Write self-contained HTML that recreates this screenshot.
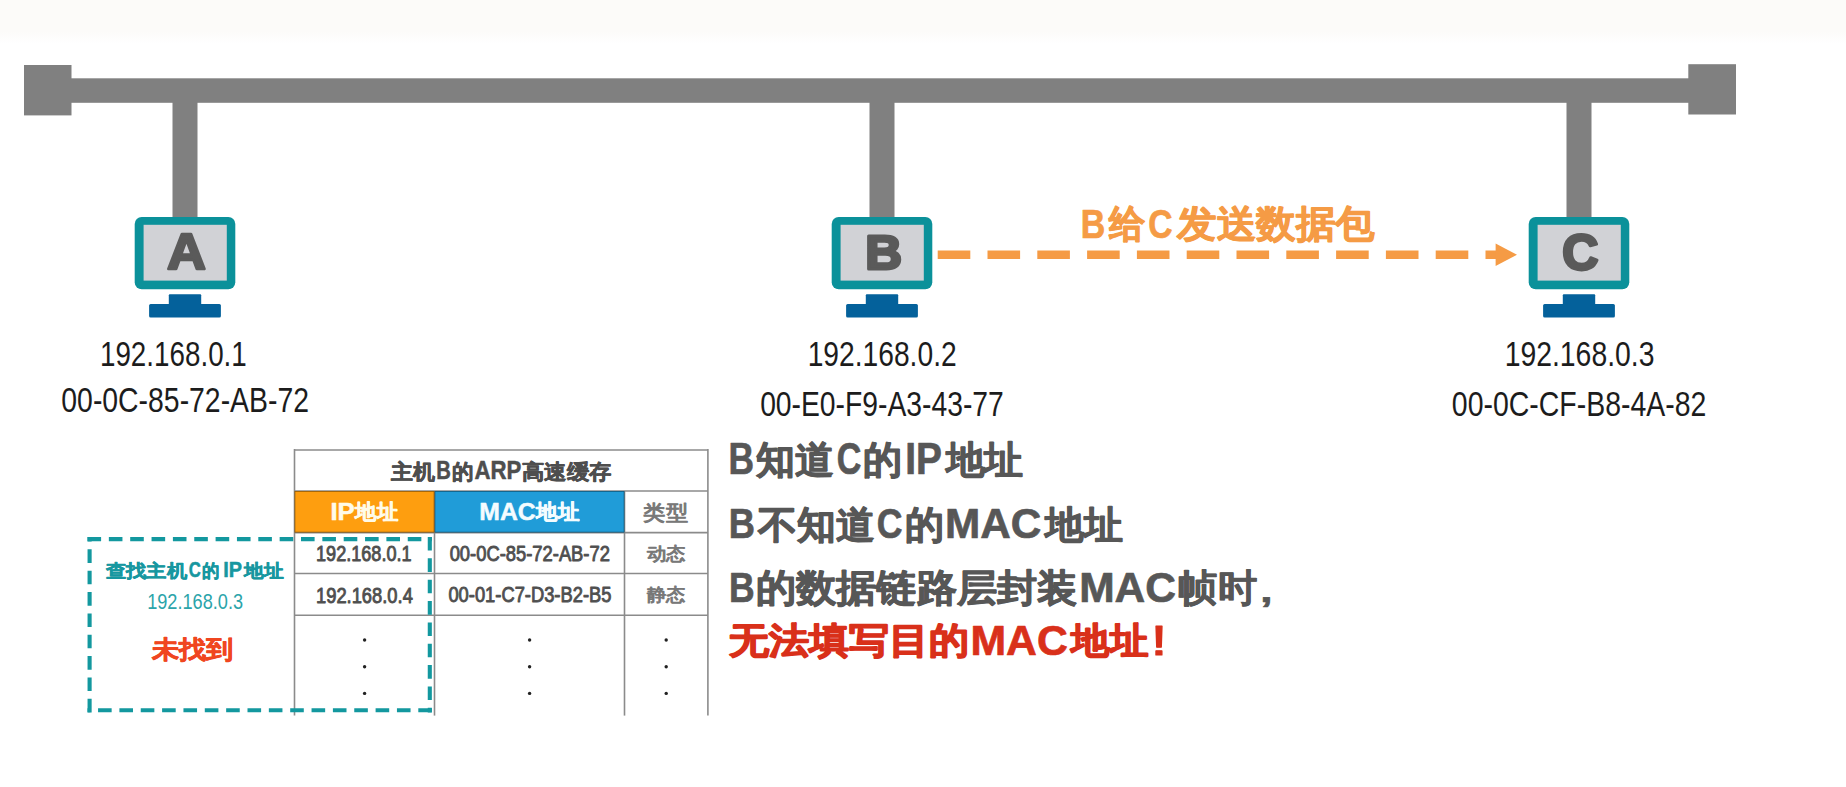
<!DOCTYPE html>
<html><head><meta charset="utf-8"><style>
html,body{margin:0;padding:0;background:#fff;}
svg{display:block;font-family:"Liberation Sans",sans-serif;}
</style></head><body>
<svg width="1846" height="787" viewBox="0 0 1846 787">
<defs><linearGradient id="tb" x1="0" y1="0" x2="0" y2="1"><stop offset="0" stop-color="#fcfbf9"/><stop offset="0.72" stop-color="#fcfbf9"/><stop offset="1" stop-color="#ffffff"/></linearGradient></defs>
<rect x="0" y="0" width="1846" height="44" fill="url(#tb)"/>
<rect x="24" y="78.3" width="1712" height="24.5" fill="#808080"/>
<rect x="24" y="65" width="47.5" height="50.4" fill="#808080"/>
<rect x="1688.3" y="64.2" width="47.7" height="50.3" fill="#808080"/>
<rect x="172.5" y="100" width="25" height="120" fill="#808080"/>
<rect x="869.5" y="100" width="25" height="120" fill="#808080"/>
<rect x="1566.5" y="100" width="25" height="120" fill="#808080"/>
<rect x="134.70" y="217" width="100.6" height="72.2" rx="7" fill="#0b919a"/>
<rect x="143.60" y="224.8" width="83.2" height="55.8" fill="#d1d2d6"/>
<rect x="168.80" y="294.2" width="32.4" height="11" rx="1" fill="#04619b"/>
<rect x="149.10" y="304" width="71.8" height="13.6" rx="1.5" fill="#04619b"/>
<rect x="831.70" y="217" width="100.6" height="72.2" rx="7" fill="#0b919a"/>
<rect x="840.60" y="224.8" width="83.2" height="55.8" fill="#d1d2d6"/>
<rect x="865.80" y="294.2" width="32.4" height="11" rx="1" fill="#04619b"/>
<rect x="846.10" y="304" width="71.8" height="13.6" rx="1.5" fill="#04619b"/>
<rect x="1528.70" y="217" width="100.6" height="72.2" rx="7" fill="#0b919a"/>
<rect x="1537.60" y="224.8" width="83.2" height="55.8" fill="#d1d2d6"/>
<rect x="1562.80" y="294.2" width="32.4" height="11" rx="1" fill="#04619b"/>
<rect x="1543.10" y="304" width="71.8" height="13.6" rx="1.5" fill="#04619b"/>
<rect x="937.70" y="250.5" width="32.6" height="8.5" fill="#f59b45"/>
<rect x="987.50" y="250.5" width="32.6" height="8.5" fill="#f59b45"/>
<rect x="1037.30" y="250.5" width="32.6" height="8.5" fill="#f59b45"/>
<rect x="1087.10" y="250.5" width="32.6" height="8.5" fill="#f59b45"/>
<rect x="1136.90" y="250.5" width="32.6" height="8.5" fill="#f59b45"/>
<rect x="1186.70" y="250.5" width="32.6" height="8.5" fill="#f59b45"/>
<rect x="1236.50" y="250.5" width="32.6" height="8.5" fill="#f59b45"/>
<rect x="1286.30" y="250.5" width="32.6" height="8.5" fill="#f59b45"/>
<rect x="1336.10" y="250.5" width="32.6" height="8.5" fill="#f59b45"/>
<rect x="1385.90" y="250.5" width="32.6" height="8.5" fill="#f59b45"/>
<rect x="1435.70" y="250.5" width="32.6" height="8.5" fill="#f59b45"/>
<rect x="1485.50" y="250.5" width="14" height="8.5" fill="#f59b45"/>
<path d="M1495.6,243.4 L1517,254.7 L1495.6,266 Z" fill="#f59b45"/>
<rect x="434.5" y="491" width="190" height="41.6" fill="#209cd8"/>
<rect x="294.5" y="491" width="140" height="41.6" fill="#fe9e0f"/>
<g opacity="0.45">
<line x1="294.3" y1="450" x2="708" y2="450" stroke="#000000" stroke-width="1.6"/>
<line x1="294.3" y1="491" x2="708" y2="491" stroke="#000000" stroke-width="1.6"/>
<line x1="294.3" y1="532.6" x2="708" y2="532.6" stroke="#000000" stroke-width="1.6"/>
<line x1="294.3" y1="573.5" x2="708" y2="573.5" stroke="#000000" stroke-width="1.6"/>
<line x1="294.3" y1="615.2" x2="708" y2="615.2" stroke="#000000" stroke-width="1.6"/>
<line x1="294.5" y1="449" x2="294.5" y2="715.6" stroke="#000000" stroke-width="1.6"/>
<line x1="707.9" y1="449" x2="707.9" y2="715.6" stroke="#000000" stroke-width="1.6"/>
<line x1="434.5" y1="491" x2="434.5" y2="715.6" stroke="#000000" stroke-width="1.6"/>
<line x1="624.5" y1="491" x2="624.5" y2="715.6" stroke="#000000" stroke-width="1.6"/>
</g>
<circle cx="364.6" cy="640" r="1.7" fill="#222"/>
<circle cx="364.6" cy="666.7" r="1.7" fill="#222"/>
<circle cx="364.6" cy="693.4" r="1.7" fill="#222"/>
<circle cx="529.6" cy="640" r="1.7" fill="#222"/>
<circle cx="529.6" cy="666.7" r="1.7" fill="#222"/>
<circle cx="529.6" cy="693.4" r="1.7" fill="#222"/>
<circle cx="666.2" cy="640" r="1.7" fill="#222"/>
<circle cx="666.2" cy="666.7" r="1.7" fill="#222"/>
<circle cx="666.2" cy="693.4" r="1.7" fill="#222"/>
<path d="M87.5,539.1 H431.9" fill="none" stroke="#13989f" stroke-width="4.1" stroke-dasharray="13.6 7.75"/>
<path d="M429.8,537 V712.4" fill="none" stroke="#13989f" stroke-width="4.1" stroke-dasharray="13.6 7.75"/>
<path d="M431.9,710.3 H87.5" fill="none" stroke="#13989f" stroke-width="4.1" stroke-dasharray="13.6 7.75"/>
<path d="M89.6,712.4 V537" fill="none" stroke="#13989f" stroke-width="4.1" stroke-dasharray="13.6 7.75"/>
<text x="167.09" y="268.95" font-size="49.75" fill="#5a5a5a" font-weight="bold" textLength="38.95" lengthAdjust="spacingAndGlyphs" stroke="#5a5a5a" stroke-width="2.4" stroke-linejoin="round">A</text>
<text x="865.20" y="268.80" font-size="48.99" fill="#5a5a5a" font-weight="bold" textLength="36.72" lengthAdjust="spacingAndGlyphs" stroke="#5a5a5a" stroke-width="3.0" stroke-linejoin="round">B</text>
<text x="1562.34" y="269.55" font-size="50.02" fill="#5a5a5a" font-weight="bold" textLength="36.13" lengthAdjust="spacingAndGlyphs" stroke="#5a5a5a" stroke-width="3.0" stroke-linejoin="round">C</text>
<text x="99.94" y="365.55" font-size="35.21" fill="#1c1c1c" textLength="146.83" lengthAdjust="spacingAndGlyphs">192.168.0.1</text>
<text x="61.33" y="411.80" font-size="34.32" fill="#1c1c1c" textLength="247.64" lengthAdjust="spacingAndGlyphs">00-0C-85-72-AB-72</text>
<text x="807.65" y="366.10" font-size="35.05" fill="#1c1c1c" textLength="149.05" lengthAdjust="spacingAndGlyphs">192.168.0.2</text>
<text x="760.15" y="415.95" font-size="35.15" fill="#1c1c1c" textLength="243.62" lengthAdjust="spacingAndGlyphs">00-E0-F9-A3-43-77</text>
<text x="1504.64" y="366.10" font-size="35.05" fill="#1c1c1c" textLength="149.86" lengthAdjust="spacingAndGlyphs">192.168.0.3</text>
<text x="1451.87" y="415.95" font-size="35.15" fill="#1c1c1c" textLength="254.47" lengthAdjust="spacingAndGlyphs">00-0C-CF-B8-4A-82</text>
<text x="643.47" y="519.80" font-size="21.21" fill="#787878" textLength="44.53" lengthAdjust="spacingAndGlyphs"><tspan stroke="#787878" stroke-width="1.0" stroke-linejoin="round">类型</tspan></text>
<text x="316.04" y="561.25" font-size="21.17" fill="#4f4f4f" textLength="95.51" lengthAdjust="spacingAndGlyphs" stroke="#4f4f4f" stroke-width="0.9" stroke-linejoin="round">192.168.0.1</text>
<text x="449.67" y="561.25" font-size="21.17" fill="#4f4f4f" textLength="160.26" lengthAdjust="spacingAndGlyphs" stroke="#4f4f4f" stroke-width="0.9" stroke-linejoin="round">00-0C-85-72-AB-72</text>
<text x="646.69" y="559.80" font-size="17.76" fill="#787878" textLength="38.75" lengthAdjust="spacingAndGlyphs"><tspan stroke="#787878" stroke-width="1.0" stroke-linejoin="round">动态</tspan></text>
<text x="315.99" y="602.60" font-size="21.17" fill="#4f4f4f" textLength="96.85" lengthAdjust="spacingAndGlyphs" stroke="#4f4f4f" stroke-width="0.9" stroke-linejoin="round">192.168.0.4</text>
<text x="448.42" y="602.25" font-size="21.17" fill="#4f4f4f" textLength="163.02" lengthAdjust="spacingAndGlyphs" stroke="#4f4f4f" stroke-width="0.9" stroke-linejoin="round">00-01-C7-D3-B2-B5</text>
<text x="646.74" y="600.70" font-size="17.79" fill="#787878" textLength="38.50" lengthAdjust="spacingAndGlyphs"><tspan stroke="#787878" stroke-width="1.0" stroke-linejoin="round">静态</tspan></text>
<text x="147.18" y="608.80" font-size="21.74" fill="#2ba4aa" textLength="95.90" lengthAdjust="spacingAndGlyphs">192.168.0.3</text>
<text x="152.01" y="657.55" font-size="25.10" fill="#f04620" font-weight="bold" textLength="81.54" lengthAdjust="spacingAndGlyphs"><tspan stroke="#f04620" stroke-width="0.7" stroke-linejoin="round">未找到</tspan></text>
<text x="1080.81" y="237.50" font-size="40.73" fill="#f59b45" font-weight="bold" textLength="24.51" lengthAdjust="spacingAndGlyphs" stroke="#f59b45" stroke-width="0.7" stroke-linejoin="round">B</text>
<text x="1108.57" y="236.85" font-size="37.87" fill="#f59b45" font-weight="bold" textLength="36.27" lengthAdjust="spacingAndGlyphs"><tspan stroke="#f59b45" stroke-width="1.0" stroke-linejoin="round">给</tspan></text>
<text x="1148.15" y="237.50" font-size="40.73" fill="#f59b45" font-weight="bold" textLength="24.28" lengthAdjust="spacingAndGlyphs" stroke="#f59b45" stroke-width="0.7" stroke-linejoin="round">C</text>
<text x="1177.07" y="236.85" font-size="37.87" fill="#f59b45" font-weight="bold" textLength="197.46" lengthAdjust="spacingAndGlyphs"><tspan stroke="#f59b45" stroke-width="1.0" stroke-linejoin="round">发送数据包</tspan></text>
<text x="728.42" y="474.25" font-size="43.76" fill="#575757" font-weight="bold" textLength="25.52" lengthAdjust="spacingAndGlyphs" stroke="#575757" stroke-width="0.7" stroke-linejoin="round">B</text>
<text x="756.29" y="473.45" font-size="38.07" fill="#575757" font-weight="bold" textLength="78.00" lengthAdjust="spacingAndGlyphs"><tspan stroke="#575757" stroke-width="1.0" stroke-linejoin="round">知道</tspan></text>
<text x="836.68" y="474.25" font-size="43.76" fill="#575757" font-weight="bold" textLength="24.59" lengthAdjust="spacingAndGlyphs" stroke="#575757" stroke-width="0.7" stroke-linejoin="round">C</text>
<text x="863.43" y="473.45" font-size="38.07" fill="#575757" font-weight="bold" textLength="39.11" lengthAdjust="spacingAndGlyphs"><tspan stroke="#575757" stroke-width="1.0" stroke-linejoin="round">的</tspan></text>
<text x="905.31" y="474.25" font-size="43.76" fill="#575757" font-weight="bold" textLength="36.69" lengthAdjust="spacingAndGlyphs" stroke="#575757" stroke-width="0.7" stroke-linejoin="round">IP</text>
<text x="945.62" y="473.45" font-size="38.07" fill="#575757" font-weight="bold" textLength="77.73" lengthAdjust="spacingAndGlyphs"><tspan stroke="#575757" stroke-width="1.0" stroke-linejoin="round">地址</tspan></text>
<text x="728.84" y="537.50" font-size="42.29" fill="#575757" font-weight="bold" textLength="26.23" lengthAdjust="spacingAndGlyphs" stroke="#575757" stroke-width="0.7" stroke-linejoin="round">B</text>
<text x="757.97" y="537.50" font-size="38.17" fill="#575757" font-weight="bold" textLength="116.49" lengthAdjust="spacingAndGlyphs"><tspan stroke="#575757" stroke-width="1.0" stroke-linejoin="round">不知道</tspan></text>
<text x="876.67" y="537.50" font-size="42.29" fill="#575757" font-weight="bold" textLength="25.73" lengthAdjust="spacingAndGlyphs" stroke="#575757" stroke-width="0.7" stroke-linejoin="round">C</text>
<text x="904.55" y="537.50" font-size="38.17" fill="#575757" font-weight="bold" textLength="39.10" lengthAdjust="spacingAndGlyphs"><tspan stroke="#575757" stroke-width="1.0" stroke-linejoin="round">的</tspan></text>
<text x="945.01" y="537.50" font-size="42.29" fill="#575757" font-weight="bold" textLength="96.30" lengthAdjust="spacingAndGlyphs" stroke="#575757" stroke-width="0.7" stroke-linejoin="round">MAC</text>
<text x="1044.88" y="537.50" font-size="38.17" fill="#575757" font-weight="bold" textLength="77.72" lengthAdjust="spacingAndGlyphs"><tspan stroke="#575757" stroke-width="1.0" stroke-linejoin="round">地址</tspan></text>
<text x="728.97" y="601.50" font-size="42.29" fill="#575757" font-weight="bold" textLength="25.65" lengthAdjust="spacingAndGlyphs" stroke="#575757" stroke-width="0.7" stroke-linejoin="round">B</text>
<text x="755.78" y="600.75" font-size="37.60" fill="#575757" font-weight="bold" textLength="321.90" lengthAdjust="spacingAndGlyphs"><tspan stroke="#575757" stroke-width="1.0" stroke-linejoin="round">的数据链路层封装</tspan></text>
<text x="1079.13" y="601.50" font-size="42.29" fill="#575757" font-weight="bold" textLength="96.82" lengthAdjust="spacingAndGlyphs" stroke="#575757" stroke-width="0.7" stroke-linejoin="round">MAC</text>
<text x="1178.47" y="601.00" font-size="38.10" fill="#575757" font-weight="bold" textLength="78.53" lengthAdjust="spacingAndGlyphs"><tspan stroke="#575757" stroke-width="0.6" stroke-linejoin="round">帧时</tspan></text>
<text x="1260.33" y="602.00" font-size="31.94" fill="#575757" font-weight="bold" textLength="12.26" lengthAdjust="spacingAndGlyphs" stroke="#575757" stroke-width="0.7" stroke-linejoin="round">,</text>
<text x="729.00" y="653.00" font-size="36.10" fill="#d9301a" font-weight="bold" textLength="240.39" lengthAdjust="spacingAndGlyphs"><tspan stroke="#d9301a" stroke-width="1.4" stroke-linejoin="round">无法填写目的</tspan></text>
<text x="970.47" y="654.55" font-size="42.09" fill="#d9301a" font-weight="bold" textLength="97.38" lengthAdjust="spacingAndGlyphs" stroke="#d9301a" stroke-width="0.7" stroke-linejoin="round">MAC</text>
<text x="1071.19" y="653.00" font-size="36.10" fill="#d9301a" font-weight="bold" textLength="76.90" lengthAdjust="spacingAndGlyphs"><tspan stroke="#d9301a" stroke-width="1.4" stroke-linejoin="round">地址</tspan></text>
<text x="1150.58" y="654.75" font-size="42.78" fill="#d9301a" textLength="16.99" lengthAdjust="spacingAndGlyphs" stroke="#d9301a" stroke-width="1.0" stroke-linejoin="round">!</text>
<text x="391.26" y="478.50" font-size="21.05" fill="#4e4e4e" font-weight="bold" textLength="43.98" lengthAdjust="spacingAndGlyphs"><tspan stroke="#4e4e4e" stroke-width="0.6" stroke-linejoin="round">主机</tspan></text>
<text x="436.17" y="479.40" font-size="25.35" fill="#4e4e4e" font-weight="bold" textLength="14.60" lengthAdjust="spacingAndGlyphs" stroke="#4e4e4e" stroke-width="0.5" stroke-linejoin="round">B</text>
<text x="452.00" y="478.50" font-size="21.05" fill="#4e4e4e" font-weight="bold" textLength="21.55" lengthAdjust="spacingAndGlyphs"><tspan stroke="#4e4e4e" stroke-width="0.6" stroke-linejoin="round">的</tspan></text>
<text x="474.53" y="479.40" font-size="25.35" fill="#4e4e4e" font-weight="bold" textLength="46.86" lengthAdjust="spacingAndGlyphs" stroke="#4e4e4e" stroke-width="0.5" stroke-linejoin="round">ARP</text>
<text x="522.05" y="478.50" font-size="21.05" fill="#4e4e4e" font-weight="bold" textLength="89.53" lengthAdjust="spacingAndGlyphs"><tspan stroke="#4e4e4e" stroke-width="0.6" stroke-linejoin="round">高速缓存</tspan></text>
<text x="330.43" y="519.90" font-size="24.06" fill="#fffbe8" font-weight="bold" textLength="24.36" lengthAdjust="spacingAndGlyphs" stroke="#fffbe8" stroke-width="0.5" stroke-linejoin="round">IP</text>
<text x="355.36" y="518.90" font-size="20.77" fill="#fffbe8" font-weight="bold" textLength="42.74" lengthAdjust="spacingAndGlyphs"><tspan stroke="#fffbe8" stroke-width="0.6" stroke-linejoin="round">地址</tspan></text>
<text x="479.24" y="520.35" font-size="24.23" fill="#f4fcff" font-weight="bold" textLength="56.45" lengthAdjust="spacingAndGlyphs" stroke="#f4fcff" stroke-width="0.5" stroke-linejoin="round">MAC</text>
<text x="536.38" y="518.90" font-size="20.77" fill="#f4fcff" font-weight="bold" textLength="42.99" lengthAdjust="spacingAndGlyphs"><tspan stroke="#f4fcff" stroke-width="0.6" stroke-linejoin="round">地址</tspan></text>
<text x="105.92" y="576.65" font-size="18.06" fill="#1797a0" font-weight="bold" textLength="81.19" lengthAdjust="spacingAndGlyphs"><tspan stroke="#1797a0" stroke-width="0.5" stroke-linejoin="round">查找主机</tspan></text>
<text x="188.72" y="576.95" font-size="21.61" fill="#1797a0" font-weight="bold" textLength="12.11" lengthAdjust="spacingAndGlyphs" stroke="#1797a0" stroke-width="0.5" stroke-linejoin="round">C</text>
<text x="202.33" y="576.65" font-size="18.06" fill="#1797a0" font-weight="bold" textLength="17.45" lengthAdjust="spacingAndGlyphs"><tspan stroke="#1797a0" stroke-width="0.5" stroke-linejoin="round">的</tspan></text>
<text x="223.23" y="576.95" font-size="21.61" fill="#1797a0" font-weight="bold" textLength="18.79" lengthAdjust="spacingAndGlyphs" stroke="#1797a0" stroke-width="0.5" stroke-linejoin="round">IP</text>
<text x="244.35" y="576.65" font-size="18.06" fill="#1797a0" font-weight="bold" textLength="39.43" lengthAdjust="spacingAndGlyphs"><tspan stroke="#1797a0" stroke-width="0.5" stroke-linejoin="round">地址</tspan></text>
</svg>
</body></html>
